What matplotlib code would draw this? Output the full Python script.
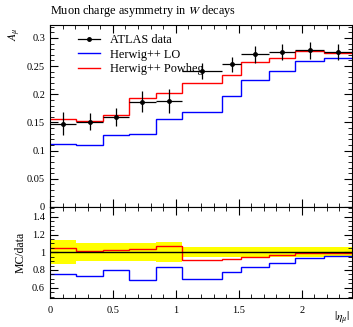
import matplotlib.pyplot as plt
import numpy as np
from matplotlib.ticker import MultipleLocator
from matplotlib.lines import Line2D

plt.rcParams['font.family'] = ['Liberation Serif', 'DejaVu Serif']
plt.rcParams['mathtext.fontset'] = 'stix'

# bin edges in |eta_mu|
edges = [0.0, 0.21, 0.42, 0.63, 0.84, 1.05, 1.37, 1.52, 1.74, 1.95, 2.18, 2.4]
# ATLAS data
data_val = [0.148, 0.151, 0.160, 0.187, 0.188, 0.242, 0.253, 0.271, 0.275, 0.278, 0.275]
data_err = [0.020, 0.015, 0.016, 0.019, 0.021, 0.014, 0.014, 0.015, 0.015, 0.015, 0.015]
# Herwig++ LO
lo_val = [0.111, 0.110, 0.128, 0.129, 0.157, 0.168, 0.197, 0.226, 0.242, 0.259, 0.264]
# Herwig++ Powheg
pw_val = [0.1555, 0.153, 0.164, 0.193, 0.2015, 0.220, 0.235, 0.258, 0.265, 0.2766, 0.2736]

edges = np.array(edges)
data_val = np.array(data_val)
data_err = np.array(data_err)
lo_val = np.array(lo_val)
pw_val = np.array(pw_val)
centers = 0.5 * (edges[1:] + edges[:-1])
halfw = 0.5 * (edges[1:] - edges[:-1])


def step(ax, vals, color, lw=1.0):
    ax.stairs(vals, edges, color=color, lw=lw, baseline=None)


def style_ticks(ax):
    ax.tick_params(which='both', direction='in', top=True, right=True, labelsize=7.5, color='black')
    ax.tick_params(which='major', length=6, width=0.8)
    ax.tick_params(which='minor', length=3, width=0.6)
    for s in ax.spines.values():
        s.set_linewidth(0.8)


fig = plt.figure(figsize=(3.53, 3.27), dpi=100)
ax = fig.add_axes([0.1416, 0.367, 0.8555, 0.5566])
rax = fig.add_axes([0.1416, 0.0902, 0.8555, 0.2768])

# main panel
step(ax, lo_val, '#0000ff')
step(ax, pw_val, '#ff0000')
ax.errorbar(centers, data_val, yerr=data_err, xerr=halfw, fmt='o', color='black',
            ms=2.5, lw=0.9, capsize=0, zorder=5)
h_data = Line2D([], [], color='black', lw=0.9, marker='o', ms=2.5)
h_lo = Line2D([], [], color='#0000ff', lw=1.0)
h_pw = Line2D([], [], color='#ff0000', lw=1.0)
ax.set_xlim(0, 2.4)
ax.set_ylim(0, 0.323)
ax.yaxis.set_minor_locator(MultipleLocator(0.01))
ax.xaxis.set_major_locator(MultipleLocator(0.5))
ax.xaxis.set_minor_locator(MultipleLocator(0.1))
ax.set_yticks([0, 0.05, 0.1, 0.15, 0.2, 0.25, 0.3])
ax.set_yticklabels(['0', '0.05', '0.1', '0.15', '0.2', '0.25', '0.3'])
ax.tick_params(labelbottom=False)
style_ticks(ax)
ax.legend([h_data, h_lo, h_pw], ['ATLAS data', 'Herwig++ LO', 'Herwig++ Powheg'],
          loc='upper left', bbox_to_anchor=(0.07, 0.99), frameon=False, fontsize=8.8,
          handlelength=1.8, handletextpad=0.8, labelspacing=0.2, borderaxespad=0.2)
ax.text(0.0, 1.035, 'Muon charge asymmetry in $W$ decays', transform=ax.transAxes,
        fontsize=8.8, ha='left', va='bottom')
ax.text(-0.115, 0.985, r'$A_\mu$', transform=ax.transAxes, fontsize=8.5, rotation=90,
        ha='center', va='top')

# ratio panel
rel = data_err / data_val
rax.fill_between(edges, np.append(1 - rel, 1 - rel[-1]), np.append(1 + rel, 1 + rel[-1]),
                 step='post', color='#ffff00', lw=0, zorder=1)
rax.axhline(1.0, color='black', lw=1.0, zorder=3)
step(rax, lo_val / data_val, '#0000ff')
step(rax, pw_val / data_val, '#ff0000')
rax.set_xlim(0, 2.4)
rax.set_ylim(0.49, 1.51)
rax.yaxis.set_minor_locator(MultipleLocator(0.05))
rax.xaxis.set_minor_locator(MultipleLocator(0.1))
rax.set_yticks([0.6, 0.8, 1.0, 1.2, 1.4])
rax.set_yticklabels(['0.6', '0.8', '1', '1.2', '1.4'])
rax.set_xticks([0, 0.5, 1, 1.5, 2])
rax.set_xticklabels(['0', '0.5', '1', '1.5', '2'])
style_ticks(rax)
rax.tick_params(axis='x', pad=6)
rax.set_ylabel('MC/data', fontsize=8.5, labelpad=4)
rax.text(0.995, -0.14, r'$|\eta_\mu|$', transform=rax.transAxes, fontsize=8.5,
         ha='right', va='top')

fig.savefig('out.png', dpi=100)
